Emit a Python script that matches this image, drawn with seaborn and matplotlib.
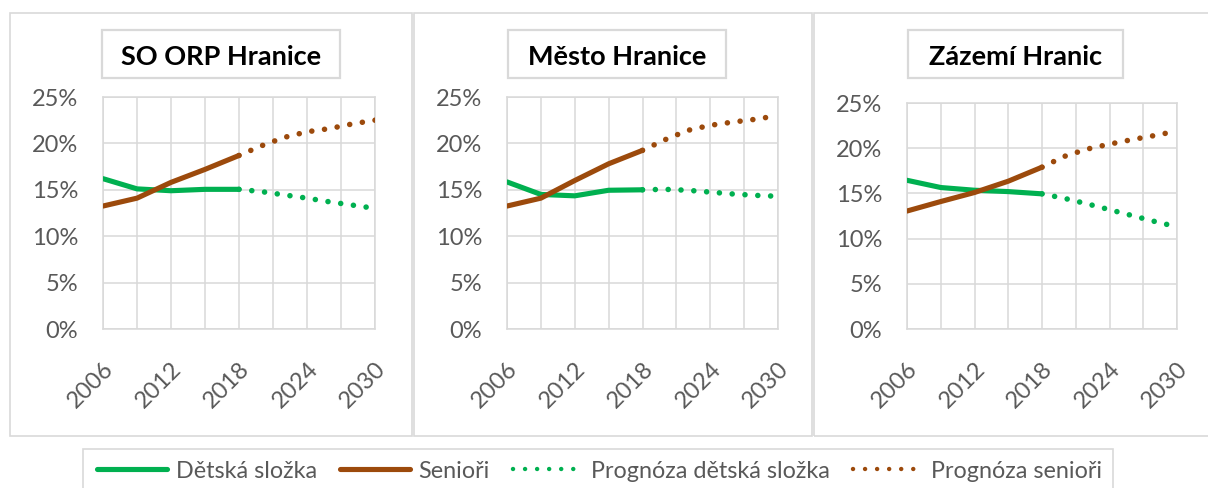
import sys
import numpy as np
import pandas as pd
import matplotlib
matplotlib.use("Agg")
import matplotlib.pyplot as plt
from matplotlib.patches import Rectangle
from matplotlib.lines import Line2D
import seaborn as sns

# ---------------- data ----------------
panel_titles = ["SO ORP Hranice", "Město Hranice", "Zázemí Hranic"]
series_names = ["Dětská složka", "Senioři", "Prognóza dětská složka", "Prognóza senioři"]

hist_years = [2006, 2009, 2012, 2015, 2018]
fc_years = [2018, 2020, 2022, 2024, 2026, 2028, 2030]

# SO ORP Hranice
orp_deti = [16.2, 15.1, 14.9, 15.05, 15.05]
orp_seniori = [13.25, 14.1, 15.8, 17.2, 18.7]
orp_fc_deti = [15.05, 14.8, 14.45, 14.1, 13.7, 13.35, 13.0]
orp_fc_seniori = [18.7, 19.75, 20.65, 21.25, 21.6, 22.1, 22.5]

# Město Hranice
mesto_deti = [15.85, 14.5, 14.35, 14.95, 15.0]
mesto_seniori = [13.25, 14.1, 16.0, 17.8, 19.25]
mesto_fc_deti = [15.0, 15.05, 14.95, 14.75, 14.55, 14.4, 14.3]
mesto_fc_seniori = [19.25, 20.4, 21.4, 21.95, 22.3, 22.6, 23.0]

# Zázemí Hranic
zazemi_deti = [16.45, 15.65, 15.35, 15.2, 14.95]
zazemi_seniori = [13.05, 14.1, 15.1, 16.35, 17.9]
zazemi_fc_deti = [14.95, 14.45, 13.85, 13.2, 12.55, 11.9, 11.3]
zazemi_fc_seniori = [17.9, 19.1, 19.9, 20.45, 20.95, 21.4, 21.9]

y_ticks = [0, 5, 10, 15, 20, 25]
x_ticks = [2006, 2009, 2012, 2015, 2018, 2021, 2024, 2027, 2030]
x_labeled = [2006, 2012, 2018, 2024, 2030]

panels = [
    (orp_deti, orp_seniori, orp_fc_deti, orp_fc_seniori),
    (mesto_deti, mesto_seniori, mesto_fc_deti, mesto_fc_seniori),
    (zazemi_deti, zazemi_seniori, zazemi_fc_deti, zazemi_fc_seniori),
]

GREEN = "#00B050"
BROWN = "#9C4A0C"
GRID = "#D9D9D9"
TICKC = "#595959"

sns.set_style("white")
plt.rcParams["font.family"] = ["Lato", "DejaVu Sans"]
plt.rcParams["ytick.major.size"] = 0
plt.rcParams["xtick.major.size"] = 0

W, H = 1208, 488
DPI = 100
fig = plt.figure(figsize=(W / DPI, H / DPI), dpi=DPI)

def fx(px):
    return px / W

def fy(py):
    return 1 - py / H

def rect(l, t, r, b, lw=1.2, z=0, fc=None):
    fig.patches.append(Rectangle((fx(l), fy(b)), fx(r - l), (b - t) / H,
                                 transform=fig.transFigure, fill=fc is not None,
                                 facecolor=fc if fc else "none",
                                 edgecolor=GRID, linewidth=lw, zorder=z))

# axes pixel boxes: (left, top, right, bottom)
ax_boxes = [(103, 97, 375, 329), (507, 97, 778, 329), (907, 103, 1177, 329)]
frame_boxes = [(10, 13, 412, 436), (414, 13, 812, 436), (814, 13, 1212, 436)]
title_boxes = [(102, 30, 340, 78), (508, 30, 726, 78), (908, 30, 1123, 78)]

for (l, t, r, b) in frame_boxes:
    rect(l, t, r, b)

DOT_LW = 4.0
DOT_STYLE = (0, (0.01, 2.3))
SOLID_LW = 3.7
TICK_FS = 17
YGAP_PX = 25     # gap between y labels' right edge and the axis
XTOP_PX = 29     # distance from axis bottom to top-right corner of x labels

axes = []
for i, (box, data) in enumerate(zip(ax_boxes, panels)):
    l, t, r, b = box
    ax = fig.add_axes([fx(l), fy(b), fx(r - l), (b - t) / H])
    axes.append(ax)
    deti, seniori, fc_deti, fc_seniori = data
    df_h = pd.DataFrame({"year": hist_years * 2,
                         "value": deti + seniori,
                         "series": [series_names[0]] * 5 + [series_names[1]] * 5})
    df_f = pd.DataFrame({"year": fc_years * 2,
                         "value": fc_deti + fc_seniori,
                         "series": [series_names[2]] * 7 + [series_names[3]] * 7})
    sns.lineplot(data=df_f, x="year", y="value", hue="series",
                 palette=[GREEN, BROWN], ax=ax, linewidth=DOT_LW, legend=False, zorder=3)
    n_fc = len(ax.get_lines())
    for ln in ax.get_lines():
        ln.set_linestyle(DOT_STYLE)
        ln.set_dash_capstyle("round")
    sns.lineplot(data=df_h, x="year", y="value", hue="series",
                 palette=[GREEN, BROWN], ax=ax, linewidth=SOLID_LW, legend=False, zorder=4)
    for ln in ax.get_lines()[n_fc:]:
        ln.set_solid_capstyle("round")
        ln.set_solid_joinstyle("round")
    ax.set_xlim(2006, 2030)
    ax.set_ylim(0, 25)
    ax.set_xticks(x_ticks)
    ax.set_xticklabels([str(y) if y in x_labeled else "" for y in x_ticks],
                       rotation=45, ha="right", va="top", rotation_mode="anchor",
                       fontsize=TICK_FS, color=TICKC)
    ax.set_yticks(y_ticks)
    ax.set_yticklabels([f"{v}%" for v in y_ticks], fontsize=TICK_FS, color=TICKC)
    ax.grid(True, color=GRID, linewidth=1.1)
    ax.set_axisbelow(True)
    for s in ax.spines.values():
        s.set_color(GRID)
        s.set_linewidth(1.1)
    ax.set_xlabel("")
    ax.set_ylabel("")
    ax.patch.set_alpha(0)

    tl, tt, tr, tb = title_boxes[i]
    rect(tl, tt, tr, tb, lw=1.6, z=1, fc="white")
    fig.text(fx((tl + tr) / 2), fy(65), panel_titles[i], ha="center", va="baseline",
             fontsize=19.5, fontweight="bold", color="black", zorder=2)

# --- self-calibrate the tick label padding so label positions match the reference ---
for _ in range(2):
    fig.canvas.draw()
    r = fig.canvas.get_renderer()
    for ax, box in zip(axes, ax_boxes):
        l, t, rr, b = box
        # y labels: right edge should sit YGAP_PX left of the axis
        lab = ax.yaxis.get_major_ticks()[-1].label1
        bb = lab.get_window_extent(r)
        cur_gap = ax.get_window_extent(r).x0 - bb.x1
        cur_pad = ax.yaxis.get_major_ticks()[0].get_pad()
        new_pad = cur_pad + (YGAP_PX - cur_gap) * 72 / DPI
        ax.tick_params(axis="y", pad=new_pad)
        # x labels: top edge of rotated label bbox should sit XTOP_PX below axis
        lab = ax.xaxis.get_major_ticks()[0].label1
        bb = lab.get_window_extent(r)
        cur_top = ax.get_window_extent(r).y0 - bb.y1
        cur_pad = ax.xaxis.get_major_ticks()[0].get_pad()
        new_pad = cur_pad + (XTOP_PX - cur_top) * 72 / DPI
        ax.tick_params(axis="x", pad=new_pad)

# legend box
rect(83, 449, 1113, 495)
handles = [
    Line2D([], [], color=GREEN, linewidth=SOLID_LW, solid_capstyle="round"),
    Line2D([], [], color=BROWN, linewidth=SOLID_LW, solid_capstyle="round"),
    Line2D([], [], color=GREEN, linewidth=3.2, linestyle=(0, (0.01, 2.7)), dash_capstyle="round"),
    Line2D([], [], color=BROWN, linewidth=3.2, linestyle=(0, (0.01, 2.7)), dash_capstyle="round"),
]
leg = fig.legend(handles, series_names, loc="center", bbox_to_anchor=(fx(600), fy(471)),
                 ncol=4, frameon=False, fontsize=16.8, handlelength=3.0,
                 handletextpad=0.35, columnspacing=1.0, labelcolor=TICKC,
                 borderpad=0, borderaxespad=0)

fig.savefig("out.png", dpi=DPI)
